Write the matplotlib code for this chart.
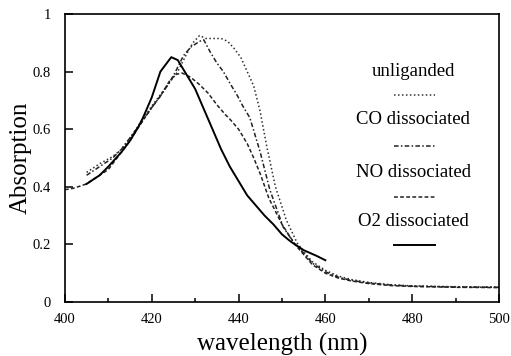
import numpy as np
import matplotlib
matplotlib.use('Agg')
import matplotlib.pyplot as plt
from matplotlib.ticker import MultipleLocator

################### *** data *** ##########################################################

# unliganded (fine dotted)
wl_unlig = [405, 408, 411, 413, 415, 417.5, 420, 422, 424, 426, 428, 429.5, 431, 432.5,
            434, 436, 437.5, 439, 440.5, 442, 443.5, 445, 446.5, 448.5, 451, 453.5, 455,
            457, 460, 463, 466, 470, 475, 480, 490, 500]
ab_unlig = [0.45, 0.48, 0.505, 0.53, 0.57, 0.625, 0.68, 0.72, 0.76, 0.80, 0.86, 0.90, 0.925, 0.915,
            0.915, 0.915, 0.905, 0.88, 0.85, 0.80, 0.75, 0.66, 0.54, 0.40, 0.285, 0.205, 0.175,
            0.14, 0.11, 0.09, 0.078, 0.068, 0.060, 0.056, 0.053, 0.052]

# CO dissociated (dash-dot)
wl_co = [405, 408, 411, 413, 415, 417.5, 420, 422, 424, 425.5, 427.3, 429, 431, 432,
         433.4, 435, 436.5, 438, 439.6, 441, 442.6, 444, 445, 447.2, 450.3, 453, 455,
         457, 460, 463, 466, 470, 475, 480, 490, 500]
ab_co = [0.44, 0.47, 0.50, 0.53, 0.57, 0.62, 0.675, 0.715, 0.76, 0.80, 0.855, 0.885, 0.905, 0.91,
         0.87, 0.83, 0.80, 0.76, 0.72, 0.68, 0.64, 0.57, 0.52, 0.39, 0.26, 0.20, 0.17,
         0.135, 0.105, 0.086, 0.075, 0.066, 0.059, 0.055, 0.052, 0.051]

# NO dissociated (dashed)
wl_no = [400, 402, 405, 408, 410, 413, 415, 417.5, 420, 422, 424, 425.5, 427, 429, 431,
         433, 435, 437, 438, 440, 442, 443.5, 445, 447, 450, 453, 455, 457, 460, 463,
         466, 470, 475, 480, 490, 500]
ab_no = [0.39, 0.395, 0.41, 0.44, 0.46, 0.52, 0.56, 0.62, 0.675, 0.715, 0.765, 0.79, 0.795, 0.78, 0.755,
         0.725, 0.685, 0.65, 0.635, 0.60, 0.55, 0.50, 0.445, 0.36, 0.27, 0.20, 0.165, 0.13, 0.10, 0.083,
         0.073, 0.064, 0.057, 0.054, 0.051, 0.050]

# O2 dissociated (solid)
wl_o2 = [405, 408, 410, 413, 415, 417, 418, 420, 422, 423, 424.5, 426, 428, 430, 432,
         434, 436, 438, 440, 442, 444, 446, 448, 450, 452, 455, 458, 460]
ab_o2 = [0.41, 0.44, 0.47, 0.52, 0.56, 0.61, 0.64, 0.71, 0.80, 0.82, 0.85, 0.84, 0.79, 0.74, 0.67,
         0.60, 0.53, 0.47, 0.42, 0.37, 0.335, 0.30, 0.27, 0.235, 0.21, 0.18, 0.16, 0.145]

labels = ['unliganded', 'CO dissociated', 'NO dissociated', 'O2 dissociated']

################## *** plot data *** ######################################################

plt.rcParams['font.family'] = 'Liberation Serif'

fig = plt.figure(figsize=(5.11, 3.56), dpi=100)
ax = fig.add_axes([0.127, 0.1517, 0.8495, 0.809])

styles = [(0, (1, 1.6)), (0, (3, 1.5, 1, 1.5)), (0, (2.5, 1.5)), '-']
widths = [1.1, 1.1, 1.1, 1.4]
colors = ['#2e2e2e', '#222222', '#222222', 'black']
series = [(wl_unlig, ab_unlig), (wl_co, ab_co), (wl_no, ab_no), (wl_o2, ab_o2)]

for (x, y), ls, lw, c in zip(series, styles, widths, colors):
    ax.plot(x, y, linestyle=ls, linewidth=lw, color=c)

ax.set_xlim(400, 500)
ax.set_ylim(0, 1)
ax.xaxis.set_major_locator(MultipleLocator(20))
ax.xaxis.set_minor_locator(MultipleLocator(10))
ax.set_yticks([0, 0.2, 0.4, 0.6, 0.8, 1])
ax.set_yticklabels(['0', '0.2', '0.4', '0.6', '0.8', '1'])

ax.tick_params(which='both', direction='in', labelsize=10.5)
ax.tick_params(which='major', length=5.5, width=1.1)
ax.tick_params(which='minor', length=3, width=1.1)
ax.tick_params(axis='x', pad=8)
ax.tick_params(axis='y', pad=10)
for s in ax.spines.values():
    s.set_linewidth(1.2)

ax.set_xlabel('wavelength (nm)', fontsize=18, labelpad=5)
ax.set_ylabel('Absorption', fontsize=18, labelpad=1)

# legend: label text with its line sample underneath
text_y = [0.799, 0.632, 0.448, 0.278]
line_y = [0.719, 0.542, 0.365, 0.198]
for lab, ty, ly, ls, lw, c in zip(labels, text_y, line_y, styles, widths, colors):
    ax.text(0.802, ty, lab, transform=ax.transAxes, ha='center', va='center', fontsize=13.5)
    ax.plot([0.757, 0.853], [ly, ly], transform=ax.transAxes, linestyle=ls,
            linewidth=lw, color=c)

plt.savefig('out.png', dpi=100)
plt.close()
